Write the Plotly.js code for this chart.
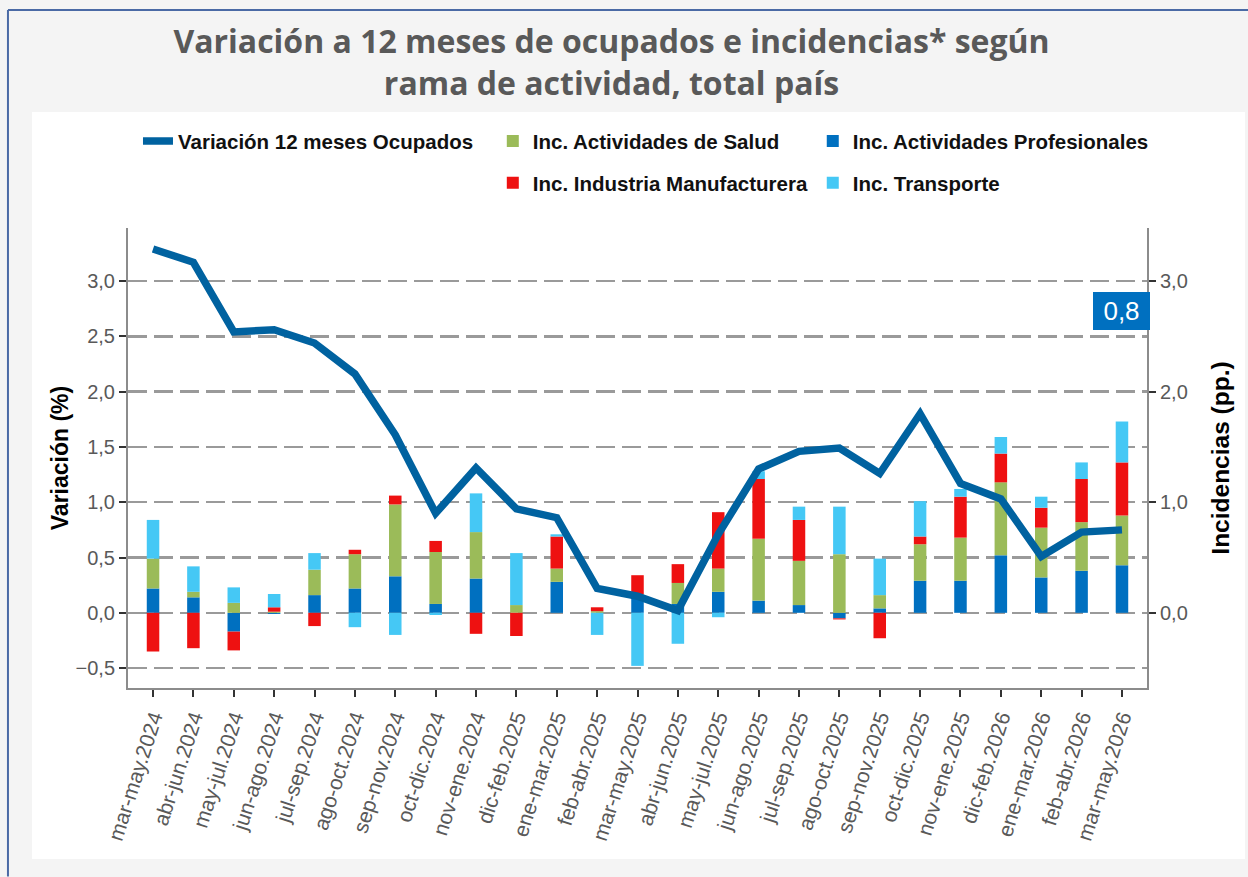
<!DOCTYPE html>
<html>
<head>
<meta charset="utf-8">
<script src="https://cdn.plot.ly/plotly-3.0.1.min.js"></script>
<style>html,body{margin:0;padding:0;background:#f4f4f4;}#chart{width:1248px;height:877px;}</style>
</head>
<body>
<div id="chart"></div>
<script>
const categories = ['mar-may.2024','abr-jun.2024','may-jul.2024','jun-ago.2024','jul-sep.2024','ago-oct.2024','sep-nov.2024','oct-dic.2024','nov-ene.2024','dic-feb.2025','ene-mar.2025','feb-abr.2025','mar-may.2025','abr-jun.2025','may-jul.2025','jun-ago.2025','jul-sep.2025','ago-oct.2025','sep-nov.2025','oct-dic.2025','nov-ene.2025','dic-feb.2026','ene-mar.2026','feb-abr.2026','mar-may.2026'];
const ocupados = [3.29,3.17,2.54,2.56,2.44,2.16,1.61,0.90,1.31,0.94,0.86,0.22,0.15,0.02,0.71,1.30,1.46,1.49,1.26,1.80,1.17,1.03,0.51,0.73,0.75];
const profesionales = [0.22,0.14,-0.17,-0.01,0.16,0.22,0.33,0.08,0.31,0.00,0.28,0.00,0.14,0.08,0.19,0.11,0.07,-0.05,0.04,0.29,0.29,0.52,0.32,0.38,0.43];
const salud = [0.27,0.05,0.09,0.01,0.23,0.31,0.65,0.47,0.42,0.07,0.12,0.015,0.03,0.19,0.21,0.56,0.40,0.53,0.12,0.33,0.39,0.66,0.45,0.44,0.45];
const manufactura = [-0.35,-0.32,-0.17,0.04,-0.12,0.04,0.08,0.10,-0.19,-0.21,0.29,0.035,0.17,0.17,0.51,0.54,0.37,-0.01,-0.23,0.07,0.37,0.26,0.18,0.39,0.48];
const transporte = [0.35,0.23,0.14,0.12,0.15,-0.13,-0.20,-0.02,0.35,0.47,0.02,-0.20,-0.48,-0.28,-0.04,0.07,0.12,0.43,0.33,0.32,0.07,0.15,0.10,0.15,0.37];
const lastLabel = '0,8';

const legFont = {family:'"Liberation Sans",Arial,sans-serif', size:20.5, color:'#111', weight:700};
const barW = 0.31;
function bar(name, y, color, legend, group) {
  return {type:'bar', name:name, x:categories, y:y, width:barW, marker:{color:color, line:{width:0}},
          legend:legend, legendgroup:group, showlegend:true, yaxis:'y', hoverinfo:'y+name'};
}
const traces = [
  bar('Inc. Actividades Profesionales', profesionales, '#0070C0', 'legend3', 'g3'),
  bar('Inc. Actividades de Salud', salud, '#9BBB59', 'legend2', 'g2'),
  bar('Inc. Industria Manufacturera', manufactura, '#EE1111', 'legend2', 'g4'),
  bar('Inc. Transporte', transporte, '#45C8F5', 'legend3', 'g5'),
  {type:'scatter', mode:'lines', name:'Variación 12 meses Ocupados', x:categories, y:ocupados, yaxis:'y2',
   line:{color:'#0062A0', width:7.5}, legend:'legend', legendgroup:'g1', showlegend:true}
];
const yr = [-0.68, 3.48];
const xTickFont = {family:'"Liberation Sans",Arial,sans-serif', size:21, color:'#595959'};
const yTickFont = {family:'"Liberation Sans",Arial,sans-serif', size:20, color:'#595959'};
const legCommon = {xanchor:'left', y:1.232, yanchor:'top', orientation:'v', font:legFont, bgcolor:'rgba(0,0,0,0)', tracegroupgap:12};
const layout = {
  width:1248, height:877,
  paper_bgcolor:'#f4f4f4', plot_bgcolor:'#ffffff',
  separators:',.',
  showlegend:true,
  margin:{l:128, r:101, t:228, b:189},
  barmode:'relative',
  title:{text:'Variación a 12 meses de ocupados e incidencias* según<br>rama de actividad, total país',
         x:0.49, xanchor:'center', xref:'container', y:0.9396, yanchor:'top', yref:'container',
         font:{family:'"Open Sans",sans-serif', size:32, weight:700, color:'#595959'}},
  xaxis:{type:'category', range:[-0.62, 24.62], tickangle:-72, tickfont:xTickFont,
         showline:true, linecolor:'#8c8c8c', linewidth:2, ticks:'outside', ticklen:7, tickwidth:2, tickcolor:'#333',
         showgrid:false, zeroline:false, fixedrange:true},
  yaxis:{range:yr, dtick:0.5, tick0:0, tickformat:'.1f', tickfont:yTickFont,
         showline:true, linecolor:'#8c8c8c', linewidth:2, ticks:'outside', ticklen:7, tickwidth:2, tickcolor:'#333',
         showgrid:true, gridcolor:'#9a9a9a', gridwidth:2.5, griddash:'19px,7px', zeroline:false,
         title:{text:'Variación (%)', standoff:0, font:{family:'"Liberation Sans",Arial,sans-serif', size:23, weight:700, color:'#000'}}},
  yaxis2:{range:yr, dtick:1, tick0:0, tickformat:'.1f', tickfont:yTickFont, overlaying:'y', side:'right',
         showline:true, linecolor:'#8c8c8c', linewidth:2, ticks:'outside', ticklen:7, tickwidth:2, tickcolor:'#333',
         showgrid:false, zeroline:false,
         title:{text:'Incidencias (pp.)', standoff:25, font:{family:'"Liberation Sans",Arial,sans-serif', size:24.5, weight:700, color:'#000'}}},
  legend:Object.assign({x:0.0098}, legCommon),
  legend2:Object.assign({x:0.358}, legCommon),
  legend3:Object.assign({x:0.672}, legCommon),
  shapes:[
    {type:'rect', xref:'paper', yref:'paper', x0:-0.0942, x1:1.0962, y0:-0.372, y1:1.252, fillcolor:'#ffffff', line:{width:0}, layer:'below'},
    {type:'line', xref:'paper', yref:'paper', x0:-0.1178, x1:1.1, y0:1.4739, y1:1.4739, line:{color:'#4a6aa5', width:2}},
    {type:'line', xref:'paper', yref:'paper', x0:-0.1178, x1:-0.1178, y0:1.4739, y1:-0.41, line:{color:'#4a6aa5', width:2}}
  ],
  annotations:[
    {xref:'paper', x:1.003, xanchor:'right', yref:'y', y:2.73, yanchor:'middle', text:lastLabel, showarrow:false,
     width:53, height:34, align:'center',
     font:{family:'"Liberation Sans",Arial,sans-serif', size:26, color:'#ffffff'}, bgcolor:'#0070C0', bordercolor:'#0070C0', borderwidth:1, borderpad:1}
  ]
};
Plotly.newPlot('chart', traces, layout, {displayModeBar:false, staticPlot:true});
</script>
</body>
</html>
